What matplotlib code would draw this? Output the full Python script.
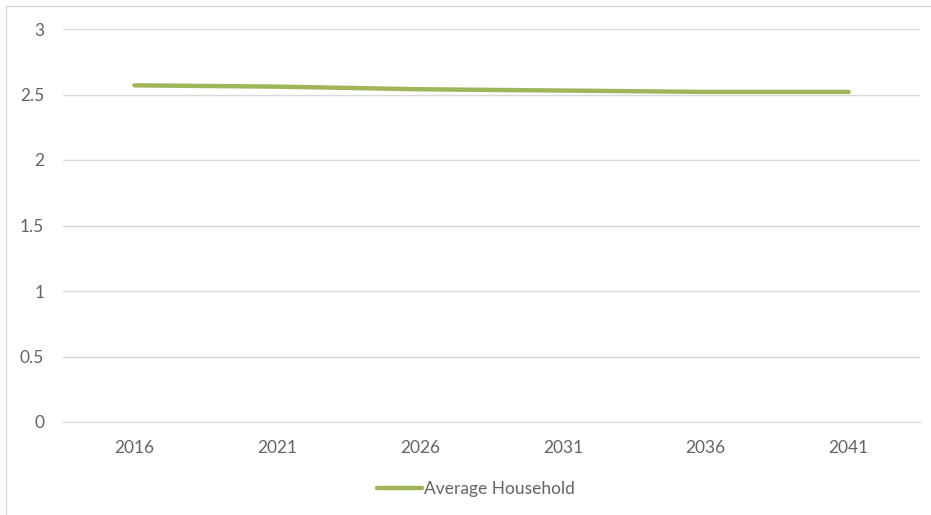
import matplotlib
matplotlib.use("Agg")
import matplotlib.pyplot as plt
from matplotlib.patches import Rectangle

years = ["2016", "2021", "2026", "2031", "2036", "2041"]
avg_household = [2.57, 2.56, 2.54, 2.53, 2.52, 2.52]
y_ticks = [0, 0.5, 1, 1.5, 2, 2.5, 3]
y_tick_labels = ["0", "0.5", "1", "1.5", "2", "2.5", "3"]

W, H = 931, 515
fig = plt.figure(figsize=(W / 100, H / 100), dpi=100)
plt.rcParams["font.family"] = ["Lato", "DejaVu Sans"]
FS = 12.5
TXT = "#646464"

# chart frame
fig.patches.append(Rectangle((6 / W, -0.1), 1.2, (H - 6) / H + 0.1,
                             transform=fig.transFigure, fill=False,
                             edgecolor="#d9d9d9", linewidth=1.0))

left, right = 63 / W, 920 / W
bottom, top = 1 - 422 / H, 1 - 29 / H
ax = fig.add_axes([left, bottom, right - left, top - bottom])

x = list(range(len(years)))
line, = ax.plot(x, avg_household, color="#9fb55a", linewidth=3.2,
                solid_capstyle="round", label="Average Household")

ax.set_xlim(-0.5, len(years) - 0.5)
ax.set_ylim(0, 3)
ax.set_yticks(y_ticks)
ax.set_yticklabels(y_tick_labels)
ax.set_xticks(x)
ax.set_xticklabels(years)
ax.grid(axis="y", color="#d9d9d9", linewidth=1.0)
ax.set_axisbelow(True)
for s in ["top", "right", "left"]:
    ax.spines[s].set_visible(False)
ax.spines["bottom"].set_color("#d9d9d9")
ax.tick_params(axis="both", length=0, colors=TXT, labelsize=FS)
ax.tick_params(axis="y", pad=13.5)
ax.tick_params(axis="x", pad=13)

fig.legend(handles=[line], loc="center", bbox_to_anchor=(476 / W, 1 - 489 / H),
           frameon=False, fontsize=FS, labelcolor=TXT,
           handlelength=2.6, handletextpad=0.1)

fig.savefig("out.png", dpi=100)
